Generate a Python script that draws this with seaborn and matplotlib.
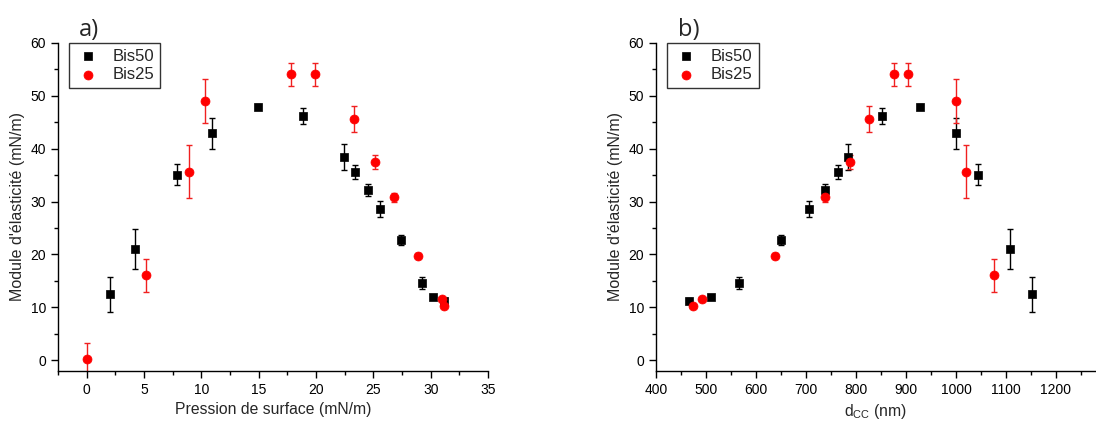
import numpy as np
import pandas as pd
import matplotlib
matplotlib.use('Agg')
import matplotlib.pyplot as plt
import seaborn as sns
from matplotlib.ticker import MultipleLocator

# Bis50 (carres noirs)
bis50_pression = [2.0, 4.2, 7.9, 10.9, 14.9, 18.9, 22.4, 23.4, 24.5, 25.6, 27.4, 29.2, 30.2, 31.2]
bis50_module = [12.5, 21.0, 35.1, 42.9, 47.9, 46.2, 38.4, 35.6, 32.2, 28.6, 22.7, 14.6, 12.0, 11.3]
bis50_err = [3.3, 3.8, 2.0, 2.9, 0.5, 1.5, 2.4, 1.3, 1.1, 1.5, 1.0, 1.1, 0.3, 0.4]
bis50_dcc = [1152, 1108, 1045, 1001, 929, 853, 785, 764, 739, 706, 651, 567, 511, 466]

# Bis25 (cercles rouges)
bis25_pression = [0.0, 5.2, 8.9, 10.3, 17.8, 19.9, 23.3, 25.1, 26.8, 28.9, 31.0, 31.15]
bis25_module = [0.2, 16.1, 35.6, 49.0, 54.0, 54.0, 45.6, 37.4, 30.8, 19.8, 11.5, 10.3]
bis25_err = [3.0, 3.1, 5.0, 4.1, 2.2, 2.2, 2.4, 1.3, 0.9, 0.4, 0.3, 0.3]
bis25_dcc = [np.nan, 1077, 1021, 1001, 905, 877, 826, 788, 739, 639, 493, 475]

df50 = pd.DataFrame({'p': bis50_pression, 'E': bis50_module, 'err': bis50_err, 'd': bis50_dcc})
df25 = pd.DataFrame({'p': bis25_pression, 'E': bis25_module, 'err': bis25_err, 'd': bis25_dcc})

sns.set_style('ticks')
plt.rcParams['font.family'] = ['Liberation Sans', 'DejaVu Sans']

fig = plt.figure(figsize=(10.96, 4.23), dpi=100)
ax1 = fig.add_axes([0.0529, 0.123, 0.3924, 0.776])
ax2 = fig.add_axes([0.5985, 0.123, 0.4015, 0.776])


def trace(ax, xcol):
    # barres d'erreur
    ax.errorbar(df50[xcol], df50['E'], yerr=df50['err'], fmt='none', ecolor='black',
                elinewidth=1, capsize=2.5, capthick=1, zorder=2)
    ax.errorbar(df25[xcol], df25['E'], yerr=df25['err'], fmt='none', ecolor='#f02020',
                elinewidth=1, capsize=2.5, capthick=1, zorder=2)
    sns.scatterplot(data=df50, x=xcol, y='E', ax=ax, marker='s', color='black', s=32,
                    edgecolor='black', linewidth=0.5, label='Bis50', zorder=3)
    sns.scatterplot(data=df25, x=xcol, y='E', ax=ax, marker='o', color='#ff0000', s=42,
                    edgecolor='#ff0000', linewidth=0.5, label='Bis25', zorder=3)
    ax.set_ylim(-2, 60)
    ax.yaxis.set_major_locator(MultipleLocator(10))
    ax.yaxis.set_minor_locator(MultipleLocator(5))
    ax.set_ylabel("Module d'élasticité (mN/m)", fontsize=11.5)
    sns.despine(ax=ax)
    ax.tick_params(which='both', direction='out', labelsize=10, width=1, colors='black')
    ax.tick_params(which='major', length=5)
    ax.tick_params(which='minor', length=3)
    for s in ax.spines.values():
        s.set_linewidth(1)
        s.set_color('black')
    leg = ax.legend(loc='upper left', bbox_to_anchor=(0.025, 1.0), fontsize=12,
                    frameon=True, fancybox=False, edgecolor='black', handletextpad=0.7,
                    handlelength=1.6, borderpad=0.35, labelspacing=0.2, borderaxespad=0)
    leg.get_frame().set_linewidth(1)


trace(ax1, 'p')
ax1.set_xlim(-2.5, 35)
ax1.xaxis.set_major_locator(MultipleLocator(5))
ax1.xaxis.set_minor_locator(MultipleLocator(2.5))
ax1.set_xlabel('Pression de surface (mN/m)', fontsize=11.3)

trace(ax2, 'd')
ax2.set_xlim(400, 1280)
ax2.xaxis.set_major_locator(MultipleLocator(100))
ax2.xaxis.set_minor_locator(MultipleLocator(50))
ax2.set_xlabel('d$_{\\mathregular{CC}}$ (nm)', fontsize=11.3)

fig.text(0.072, 0.915, 'a)', fontsize=17, family='Open Sans', va='baseline')
fig.text(0.6186, 0.915, 'b)', fontsize=17, family='Open Sans', va='baseline')

fig.savefig('out.png', dpi=100)
